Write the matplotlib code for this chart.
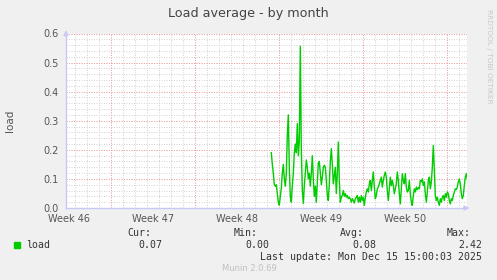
import numpy as np
import matplotlib.pyplot as plt

# Load samples, 2-hour resolution
load = [0.19, 0.15, 0.12, 0.08, 0.075, 0.08, 0.05, 0.02, 0.01, 0.04, 0.07, 0.12,
        0.15, 0.10, 0.075, 0.12, 0.25, 0.32, 0.14, 0.04, 0.02, 0.075, 0.12, 0.19,
        0.22, 0.19, 0.29, 0.18, 0.23, 0.556, 0.2, 0.06, 0.016, 0.075, 0.12, 0.165,
        0.14, 0.1, 0.12, 0.075, 0.12, 0.18, 0.1, 0.04, 0.075, 0.02, 0.085, 0.155,
        0.16, 0.12, 0.08, 0.105, 0.14, 0.147, 0.14, 0.095, 0.043, 0.026, 0.083, 0.16,
        0.204, 0.15, 0.083, 0.11, 0.14, 0.05, 0.118, 0.227, 0.095, 0.02, 0.037, 0.043,
        0.06, 0.04, 0.05, 0.037, 0.043, 0.032, 0.037, 0.032, 0.02, 0.032, 0.026, 0.017,
        0.032, 0.037, 0.043, 0.02, 0.037, 0.02, 0.043, 0.026, 0.037, 0.009, 0.037, 0.055,
        0.066, 0.055, 0.083, 0.095,
        0.06, 0.095, 0.124, 0.072, 0.032, 0.043, 0.066, 0.072, 0.083, 0.095, 0.106, 0.072,
        0.095, 0.112, 0.124, 0.106, 0.06, 0.026, 0.066, 0.106, 0.077, 0.095, 0.077, 0.049,
        0.066, 0.083, 0.124, 0.095, 0.049, 0.014, 0.066, 0.118, 0.095, 0.083, 0.118, 0.072,
        0.055, 0.06, 0.095, 0.049, 0.02, 0.009, 0.043, 0.066, 0.055, 0.072, 0.063, 0.07,
        0.066, 0.095,
        0.09, 0.1, 0.077, 0.09, 0.049, 0.02, 0.055, 0.095, 0.106, 0.066, 0.09, 0.14,
        0.215, 0.13, 0.043, 0.026, 0.037, 0.02, 0.009, 0.032, 0.02, 0.037, 0.043, 0.026,
        0.049, 0.037, 0.055, 0.049, 0.026, 0.014, 0.032, 0.026, 0.043, 0.055, 0.066, 0.063,
        0.072, 0.09, 0.1, 0.083, 0.049, 0.032, 0.043, 0.077, 0.106, 0.118, 0.1, 0.077]

weeks = ['Week 46', 'Week 47', 'Week 48', 'Week 49', 'Week 50']
stats_head = ['Cur:', 'Min:', 'Avg:', 'Max:']
stats_val = ['0.07', '0.00', '0.08', '2.42']

# time axis in days from the left edge of the graph
span = 401 / 12.0
first_week = 3.725      # first week boundary
data_start = 17.11
step = 2 / 24.0         # 2 hours per sample
t = data_start + np.arange(len(load)) * step

W, H = 497, 280
fig = plt.figure(figsize=(W / 100, H / 100), dpi=100, facecolor='#f0f0f0')
ax = fig.add_axes([66 / W, (H - 208) / H, 401 / W, 174.5 / H])
ax.set_facecolor('white')

def fx(px):
    return px / W

def fy(py):
    return 1 - py / H

# dotted grid
minor_c = '#d4d4d4'
major_c = '#f2a3a3'
dot = (0, (1, 1.5))
for d in np.arange(first_week - 3, span, 1.0):
    ax.axvline(d, color=minor_c, lw=0.72, ls=dot, zorder=1)
for y in np.arange(0.02, 0.601, 0.02):
    ax.axhline(y, color=minor_c, lw=0.72, ls=dot, zorder=1)
for k in range(5):
    ax.axvline(first_week + 7 * k, color=major_c, lw=0.72, ls=dot, zorder=2)
for y in np.arange(0.1, 0.601, 0.1):
    ax.axhline(y, color=major_c, lw=0.72, ls=dot, zorder=2)

ax.plot(t, load, color='#00cc00', lw=1.0, zorder=3)

ax.set_xlim(0, span)
ax.set_ylim(0, 0.6)
for s in ['top', 'right']:
    ax.spines[s].set_visible(False)
for s in ['left', 'bottom']:
    ax.spines[s].set_color('#c8c8f4')
    ax.spines[s].set_linewidth(1.0)

ax.set_xticks([first_week - 3.5 + 7 * k for k in range(5)])
ax.set_xticklabels(weeks)
ax.set_yticks(np.arange(0, 0.61, 0.1))
ax.set_yticklabels(['0.0', '0.1', '0.2', '0.3', '0.4', '0.5', '0.6'])
ax.tick_params(axis='both', length=0, labelsize=7, labelcolor='#555555')
ax.tick_params(axis='y', pad=5)
ax.tick_params(axis='x', pad=4)
ax.set_ylabel('load', fontsize=7.5, color='#555555', labelpad=21)

# axis arrows
ax.annotate('', xy=(0, 1.035), xytext=(0, 0.98), xycoords='axes fraction',
            arrowprops=dict(arrowstyle='-|>', color='#c8c8f4', lw=1, mutation_scale=7),
            annotation_clip=False)
ax.annotate('', xy=(1.013, 0), xytext=(0.99, 0), xycoords='axes fraction',
            arrowprops=dict(arrowstyle='-|>', color='#c8c8f4', lw=1, mutation_scale=7),
            annotation_clip=False)

fig.text(fx(248.5), fy(13), 'Load average - by month', ha='center', va='center',
         fontsize=9.2, color='#444444')
fig.text(fx(489), fy(56), 'RRDTOOL / TOBI OETIKER', rotation=270, ha='center',
         va='center', fontsize=5.3, color='#c8c8c8')

# legend block
mono = 'DejaVu Sans Mono'
fs = 7.1
fig.patches.append(plt.Rectangle((fx(14), fy(247.5)), 6 / W, 5.5 / H,
                                 transform=fig.transFigure, color='#00cc00'))
fig.text(fx(26.5), fy(244.5), 'load', family=mono, fontsize=fs, color='#333333', va='center')
head_x = [127.7, 233.3, 340, 446.7]
val_x = [162.7, 269.3, 376, 482.3]
for hx, vx, h, v in zip(head_x, val_x, stats_head, stats_val):
    fig.text(fx(hx), fy(233), h, family=mono, fontsize=fs, color='#333333', va='center')
    fig.text(fx(vx), fy(244.5), v, family=mono, fontsize=fs, color='#333333',
             va='center', ha='right')
fig.text(fx(482.3), fy(256.8), 'Last update: Mon Dec 15 15:00:03 2025', family=mono,
         fontsize=fs, color='#333333', va='center', ha='right')
fig.text(fx(249), fy(268.8), 'Munin 2.0.69', fontsize=6, color='#c0c0c0',
         ha='center', va='center')

fig.savefig('out.png', dpi=100, facecolor=fig.get_facecolor())
